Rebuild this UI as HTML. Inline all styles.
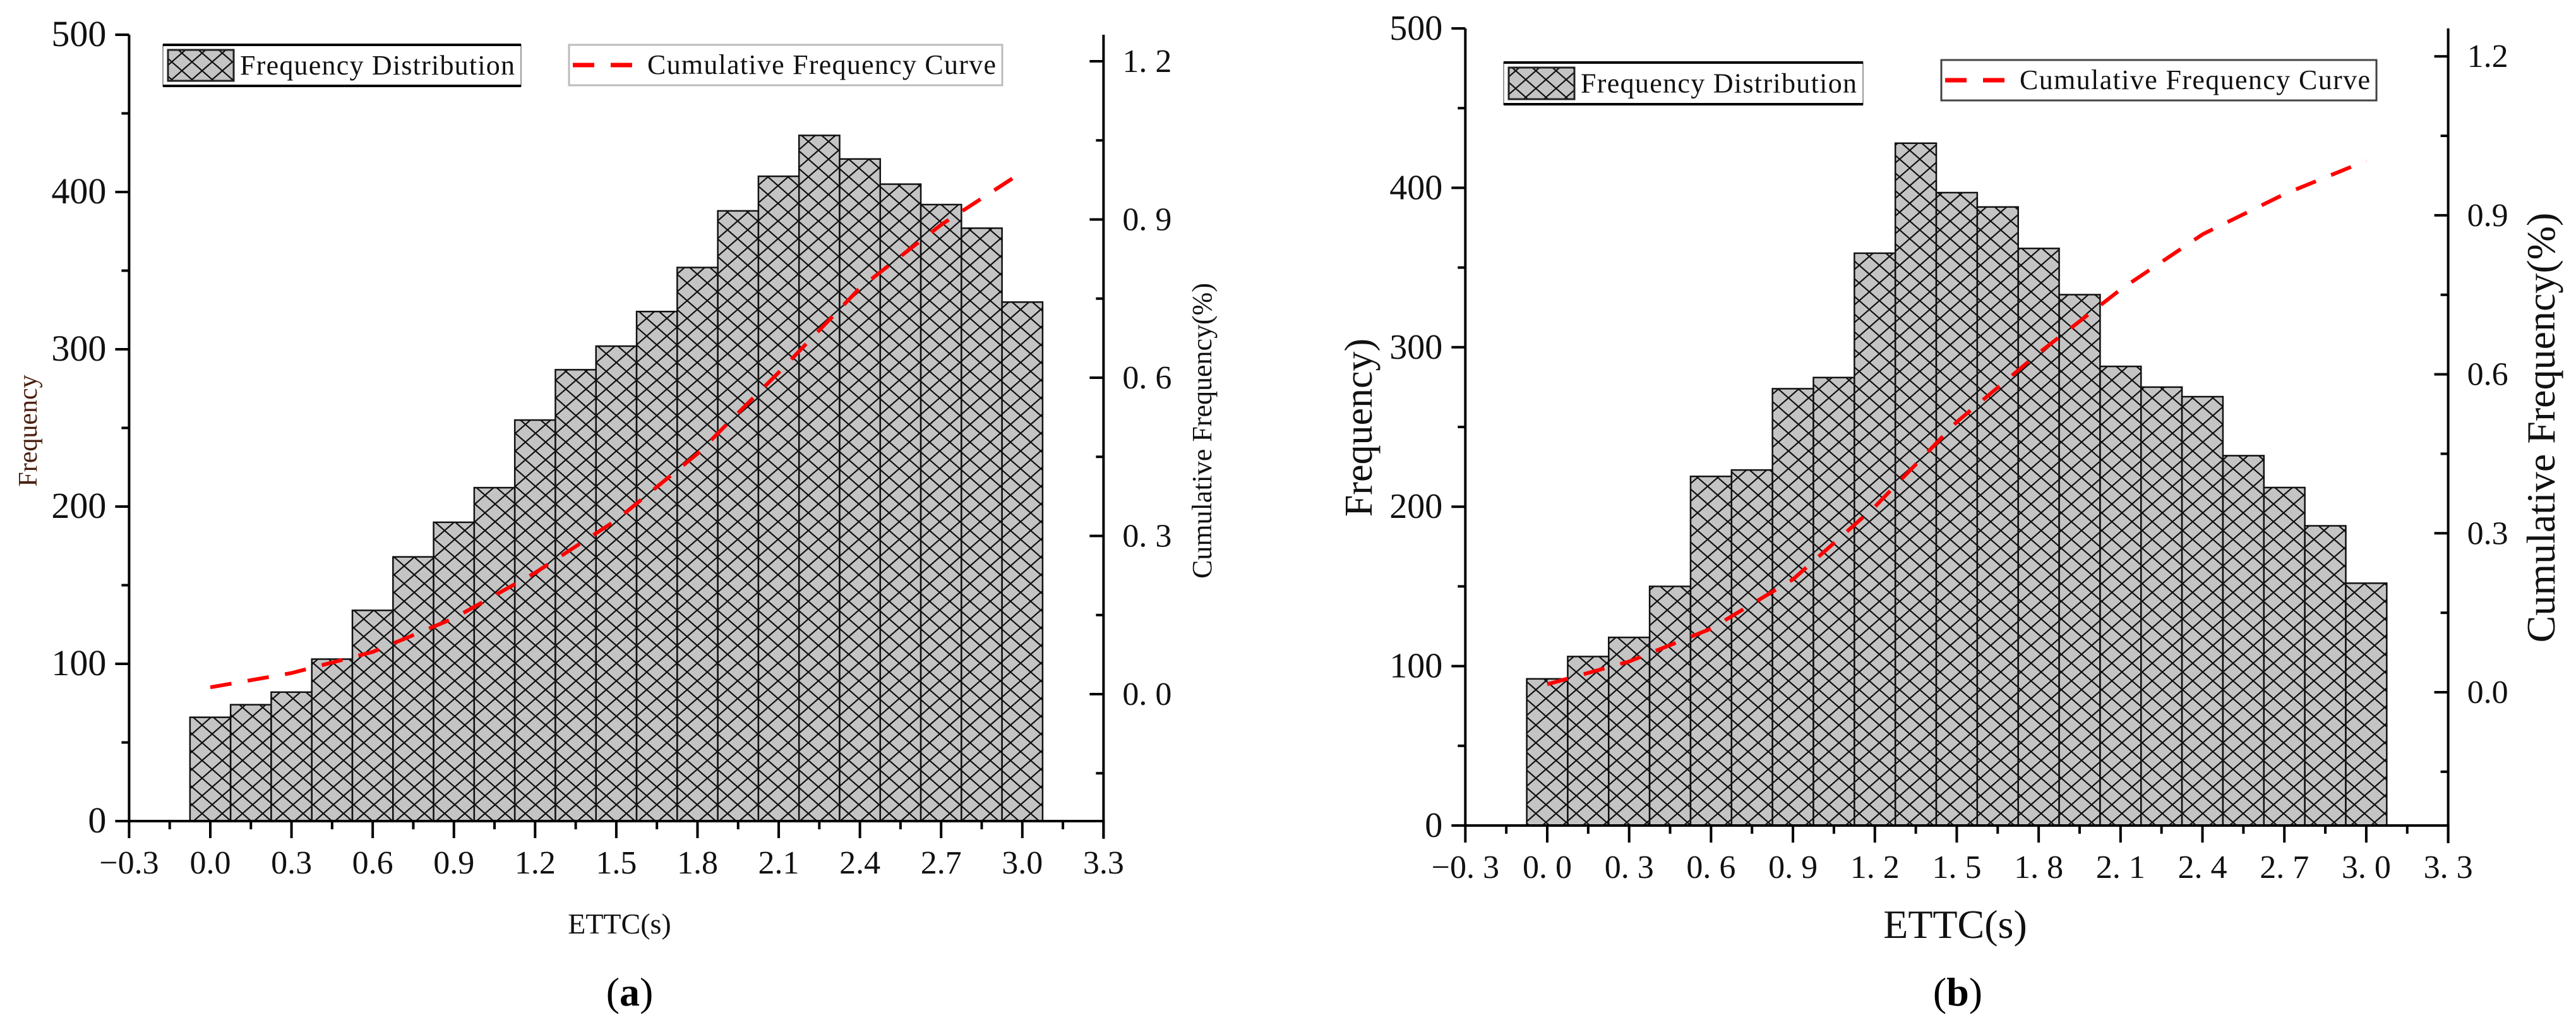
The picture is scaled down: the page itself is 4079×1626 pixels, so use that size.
<!DOCTYPE html>
<html><head><meta charset="utf-8"><style>
html,body{margin:0;padding:0;background:#fff;}
svg{display:block;font-family:"Liberation Serif",serif;}
</style></head><body>
<svg id="fig" width="4079" height="1626" viewBox="0 0 4079 1626">
<defs>
<pattern id="hatch" patternUnits="userSpaceOnUse" width="32" height="28">
<rect width="32" height="28" fill="#c4c4c4"/>
<path d="M0 0 L32 28 M32 0 L0 28" stroke="#111" stroke-width="2.2"/>
</pattern>
</defs>
</svg>
<script>
const binCenters = [0,0.15,0.3,0.45,0.6,0.75,0.9,1.05,1.2,1.35,1.5,1.65,1.8,1.95,2.1,2.25,2.4,2.55,2.7,2.85,3.0];
const freqA = [66,74,82,103,134,168,190,212,255,287,302,324,352,388,410,436,421,405,392,377,330];
const freqB = [92,106,118,150,219,223,274,281,359,428,397,388,362,333,288,275,269,232,212,188,152];
const cumX = [0,0.3,0.6,0.9,1.2,1.5,1.8,2.1,2.4,2.7,3.0];
const cumA = [0.013,0.04,0.08,0.144,0.23,0.33,0.456,0.61,0.77,0.89,0.99];
const cumB = [0.015,0.058,0.12,0.213,0.35,0.51,0.64,0.76,0.864,0.94,1.003];
const xTicks = [-0.3,0,0.3,0.6,0.9,1.2,1.5,1.8,2.1,2.4,2.7,3.0,3.3];
const yTicks = [0,100,200,300,400,500];
const rTicks = [0,0.3,0.6,0.9,1.2];

const NS="http://www.w3.org/2000/svg";
const svg=document.getElementById('fig');
function mk(tag,attrs,parent,text){const e=document.createElementNS(NS,tag);for(const k in attrs)e.setAttribute(k,attrs[k]);if(text!==undefined)e.textContent=text;(parent||svg).appendChild(e);return e;}

function chart(cfg){
  const g=mk('g',{});
  
  
  const X=v=>cfg.x0+v*cfg.xs;
  const Y=v=>cfg.y0-v*cfg.ys;
  const R=v=>cfg.r0-v*cfg.rs;
  const bw=0.15*cfg.xs;
  // bars
  cfg.freq.forEach((f,i)=>{
    const r=mk('rect',{x:X(binCenters[i])-bw/2,y:Y(f),width:bw,height:Y(0)-Y(f),fill:'url(#hatch)',stroke:'#111','stroke-width':2.5},g);
    
    
  });
  // cumulative curve
  const pts=cumX.map((x,i)=>X(x)+','+R(cfg.cum[i])).join(' ');
  const pl=mk('polyline',{points:pts,fill:'none',stroke:'#f00','stroke-width':6,'stroke-dasharray':'34 26'},g);
  
  
  // axes
  const top=cfg.top, bot=Y(0), left=X(-0.3), right=X(3.3);
  const ax=mk('g',{stroke:'#000','stroke-width':4,fill:'none'},g);
  
  
  mk('line',{x1:left,y1:top,x2:left,y2:bot+2},ax);
  mk('line',{x1:left-2,y1:bot,x2:right+2,y2:bot},ax);
  mk('line',{x1:right,y1:top,x2:right,y2:bot+28},ax);
  // x ticks
  for(let k=0;k<=24;k++){const v=-0.3+k*0.15;const major=k%2==0;
    mk('line',{x1:X(v),y1:bot,x2:X(v),y2:bot+(major?27:13)},ax);}
  xTicks.forEach(v=>{
    let s=(v<0?'\u2212':'')+Math.abs(v).toFixed(1);
    if(cfg.spaced) s=s.replace('.', '. ');
    const t=mk('text',{x:X(v),y:bot+83,'font-size':cfg.xfs,'text-anchor':'middle',fill:'#111'},g,s);
    
    
  });
  // y ticks
  for(let v=0;v<=500;v+=50){mk('line',{x1:left,y1:Y(v),x2:left-(v%100==0?22:12),y2:Y(v)},ax);}
  yTicks.forEach(v=>{
    const t=mk('text',{x:left-36,y:Y(v)+18,'font-size':cfg.yfs,'text-anchor':'end',fill:'#111'},g,String(v));
    
    
  });
  // right ticks
  for(let k=-1;k<=8;k++){const v=k*0.15;const y=R(v);if(y<top||y>bot)continue;
    mk('line',{x1:right,y1:y,x2:right-(k%2==0?22:12),y2:y},ax);}
  rTicks.forEach(v=>{
    let s=v.toFixed(1); if(cfg.rspaced) s=s.replace('.', '. ');
    const t=mk('text',{x:right+30,y:R(v)+17,'font-size':cfg.rfs,fill:'#111'},g,s);
    
    
  });
  // titles
  let t=mk('text',{x:cfg.xlx,y:cfg.xly,'font-size':cfg.xlfs,'text-anchor':'middle',fill:'#111'},g,'ETTC(s)');
  
  
  t=mk('text',{transform:`translate(${cfg.ylx},${cfg.yly}) rotate(-90)`,'font-size':cfg.ylfs,'text-anchor':'middle',fill:cfg.ylcol},g,cfg.ylabel);
  
  
  t=mk('text',{transform:`translate(${cfg.rlx},${cfg.rly}) rotate(-90)`,'font-size':cfg.rlfs,'text-anchor':'middle',fill:'#111'},g,'Cumulative Frequency(%)');
  
  
  t=mk('text',{x:cfg.capx,y:1592,'font-size':64,'text-anchor':'middle',fill:'#000'},g);
  
  
  mk('tspan',{},t,'(');mk('tspan',{'font-weight':'bold'},t,cfg.cap);mk('tspan',{},t,')');
  // legend 1
  const L=cfg.leg1;
  const lg=mk('g',{},g);
  
  
  mk('rect',{x:L[0],y:L[1],width:L[2],height:L[3],fill:'#fff',stroke:'#999','stroke-width':2},lg);
  mk('line',{x1:L[0],y1:L[1],x2:L[0]+L[2],y2:L[1],stroke:'#000','stroke-width':4},lg);
  mk('line',{x1:L[0],y1:L[1]+L[3],x2:L[0]+L[2],y2:L[1]+L[3],stroke:'#000','stroke-width':4},lg);
  mk('rect',{x:L[0]+8,y:L[1]+8,width:104,height:L[3]-16,fill:'url(#hatch)',stroke:'#222','stroke-width':3},lg);
  mk('text',{x:L[0]+122,y:L[1]+L[3]*0.72,'font-size':cfg.lfs,fill:'#111',textLength:L[2]-132},lg,'Frequency Distribution');
  const M=cfg.leg2;
  const lg2=mk('g',{},g);
  
  
  mk('rect',{x:M[0],y:M[1],width:M[2],height:M[3],fill:'#fff',stroke:cfg.leg2col,'stroke-width':3},lg2);
  mk('line',{x1:M[0]+6,y1:M[1]+M[3]/2,x2:M[0]+110,y2:M[1]+M[3]/2,stroke:'#f00','stroke-width':7,'stroke-dasharray':'34 26'},lg2);
  mk('text',{x:M[0]+124,y:M[1]+M[3]*0.72,'font-size':cfg.lfs,fill:'#111',textLength:M[2]-134},lg2,'Cumulative Frequency Curve');
}

chart({name:'chart-a',x0:333,xs:428.6,y0:1300,ys:2.49,r0:1099,rs:835,top:55,freq:freqA,cum:cumA,
  xfs:52,yfs:58,rfs:52,spaced:false,rspaced:true,
  xlx:981,xly:1478,xlfs:46,ylabel:'Frequency',ylx:58,yly:682,ylfs:42,ylcol:'#4a2010',
  rlx:1918,rly:682,rlfs:44,capx:997,cap:'a',
  leg1:[258,71,567,65],leg2:[901,71,686,64],leg2col:'#bbb',lfs:44});
chart({name:'chart-b',x0:2450,xs:432.3,y0:1307,ys:2.524,r0:1096,rs:839,top:45,freq:freqB,cum:cumB,
  xfs:52,yfs:56,rfs:52,spaced:true,rspaced:false,
  xlx:3096,xly:1485,xlfs:64,ylabel:'Frequency)',ylx:2172,yly:677,ylfs:62,ylcol:'#111',
  rlx:4045,rly:677,rlfs:64,capx:3100,cap:'b',
  leg1:[2381,99,569,66],leg2:[3074,95,689,64],leg2col:'#444',lfs:44});
</script>
</body></html>
